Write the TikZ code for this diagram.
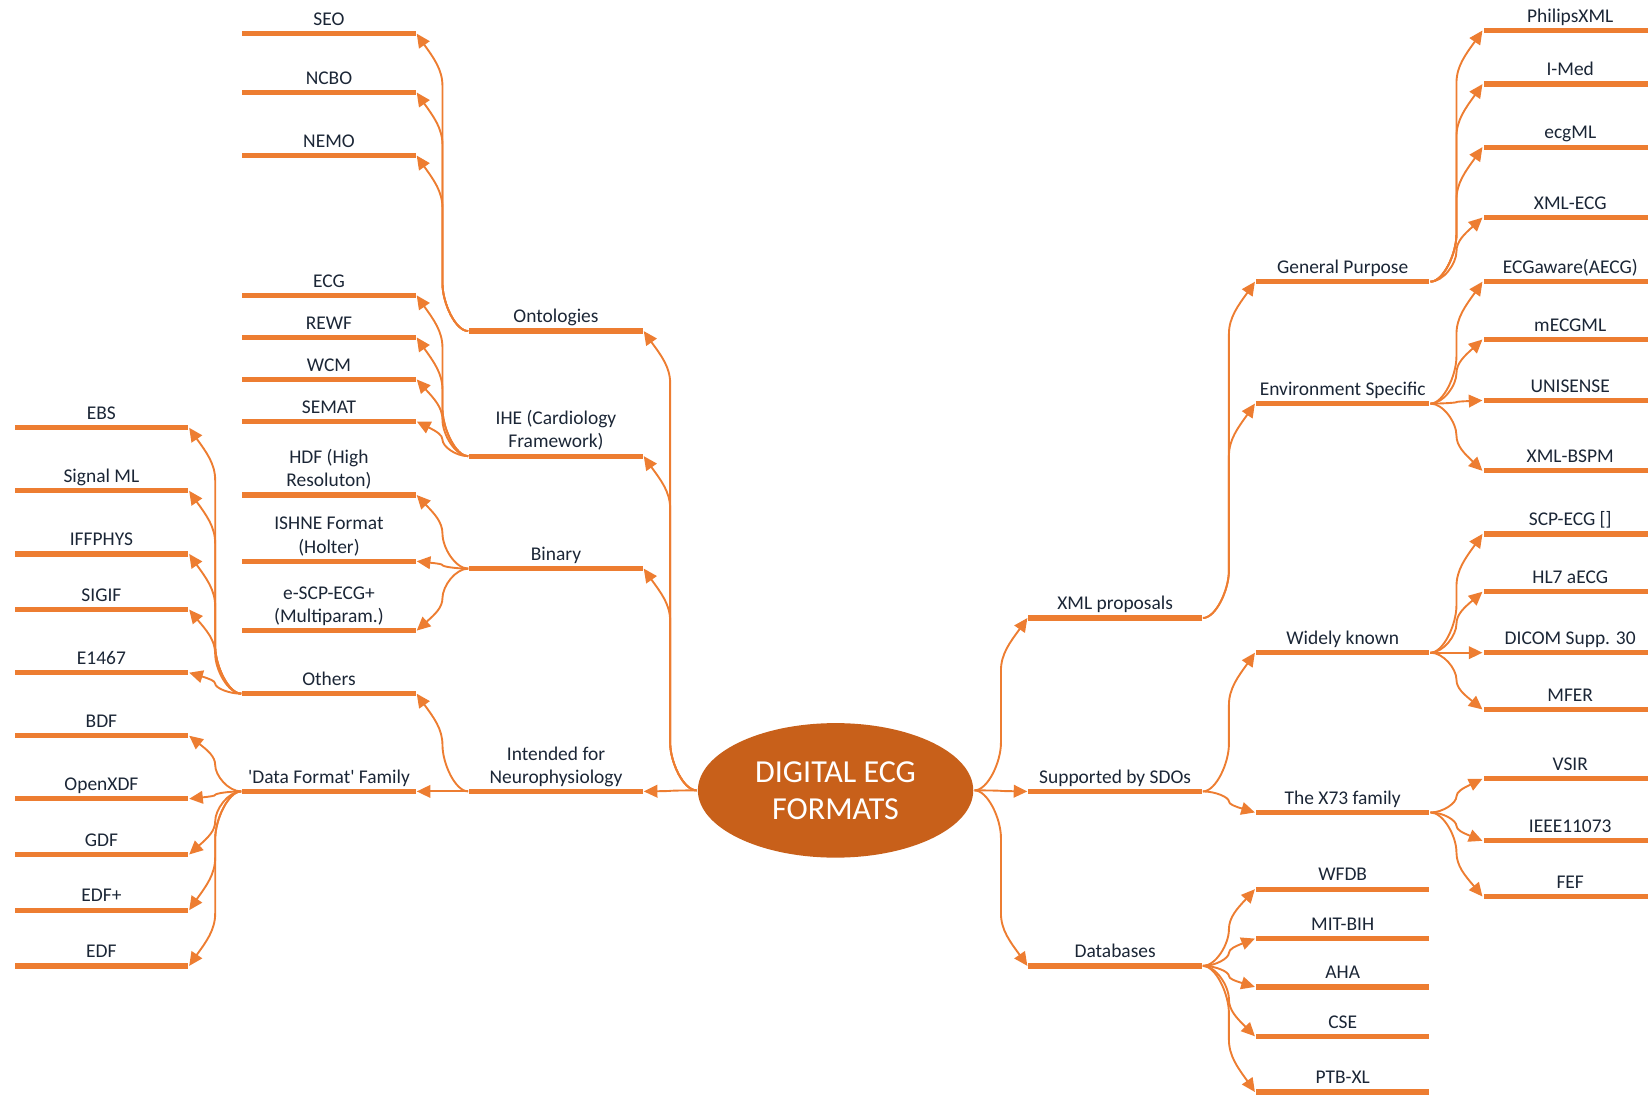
\documentclass[tikz,border=0pt]{standalone}
\usepackage{fontspec}
\setmainfont{Carlito}
\usetikzlibrary{shapes.geometric,arrows.meta,bending,calc}
\definecolor{lineor}{HTML}{ED7D31}
\definecolor{fillor}{HTML}{C8601A}
\definecolor{txt}{HTML}{1B2636}
\tikzset{
 bar/.style={rectangle, fill=lineor, minimum width=165pt, minimum height=5pt, inner sep=0pt, outer sep=0pt},
 lab/.style={anchor=south, inner sep=0pt, align=center, text=txt, font=\fontsize{18.5}{22}\selectfont},
 conn/.style={draw=lineor, line width=1.8pt, -{Triangle[length=13pt,width=12pt]}},
 rootnode/.style={ellipse, fill=fillor, minimum width=262pt, minimum height=128pt, inner sep=0pt, text=white, align=center, font=\fontsize{30.5}{35}\selectfont},
}
\newcommand\leaf[4]{\node[bar] (#1) at (#2,-#3) {};
 \node[lab] (#1-t) at ([yshift=1pt]#1.center) {#4\strut};}
\newcommand\conn[2]{\draw[conn] let \p1=(#1), \p2=(#2),
  \n1={\x1+0.5*(\x2-\x1)},
  \n2={max(-45,min(45,(\y2-\y1)*0.4737))},
  \n3={max(-50,min(50,(\y2-\y1)*0.5263))} in
  (\p1) .. controls ({\x1+0.5*(\n1-\x1)},\y1) and (\n1,{\y1+0.6*\n2}) .. (\n1,{\y1+\n2})
  -- (\n1,{\y2-\n3})
  .. controls (\n1,{\y2-0.6*\n3}) and ({\x2+0.45*(\n1-\x2)},{\y2-0.35*\n3}) .. (\p2);}
\newcommand\conL[2]{\conn{[xshift=-1pt]#1.west}{[xshift=1pt]#2.east}}
\newcommand\conR[2]{\conn{[xshift=1pt]#1.east}{[xshift=-1pt]#2.west}}
\begin{document}
\begin{tikzpicture}[x=1pt,y=1pt]
\useasboundingbox (0,0) rectangle (1568,-1041);
\node[rootnode] (root) at (795,-752) {DIGITAL ECG\\FORMATS};
% level 1 left
\leaf{ont}{529}{315}{Ontologies}
\leaf{ihe}{529}{434}{IHE (Cardiology\\Framework)}
\leaf{bin}{529}{541}{Binary}
\leaf{neu}{529}{753}{Intended for\\Neurophysiology}
% level 2 left
\leaf{seo}{313}{32}{SEO}
\leaf{ncbo}{313}{88}{NCBO}
\leaf{nemo}{313}{148}{NEMO}
\leaf{ecg}{313}{281}{ECG}
\leaf{rewf}{313}{321}{REWF}
\leaf{wcm}{313}{361}{WCM}
\leaf{semat}{313}{401}{SEMAT}
\leaf{hdf}{313}{471}{HDF (High\\Resoluton)}
\leaf{ishne}{313}{534}{ISHNE Format\\(Holter)}
\leaf{escp}{313}{600}{e-SCP-ECG+\\(Multiparam.)}
\leaf{oth}{313}{660}{Others}
\leaf{dff}{313}{753}{\textquotesingle Data Format\textquotesingle{} Family}
% level 3 left
\leaf{ebs}{96.5}{407}{EBS}
\leaf{sml}{96.5}{467}{Signal ML}
\leaf{iff}{96.5}{527}{IFFPHYS}
\leaf{sigif}{96.5}{580}{SIGIF}
\leaf{e1467}{96.5}{640}{E1467}
\leaf{bdf}{96.5}{700}{BDF}
\leaf{oxdf}{96.5}{760}{OpenXDF}
\leaf{gdf}{96.5}{813}{GDF}
\leaf{edfp}{96.5}{866}{EDF+}
\leaf{edf}{96.5}{919}{EDF}
% level 1 right
\leaf{xml}{1061}{588}{XML proposals}
\leaf{sdo}{1061}{753}{Supported by SDOs}
\leaf{db}{1061}{919}{Databases}
% level 2 right
\leaf{gp}{1277.5}{268}{General Purpose}
\leaf{env}{1277.5}{384}{Environment Specific}
\leaf{wk}{1277.5}{621}{Widely known}
\leaf{x73}{1277.5}{773}{The X73 family}
\leaf{wfdb}{1277.5}{846}{WFDB}
\leaf{mit}{1277.5}{893}{MIT-BIH}
\leaf{aha}{1277.5}{939}{AHA}
\leaf{cse}{1277.5}{986}{CSE}
\leaf{ptb}{1277.5}{1039}{PTB-XL}
% level 3 right
\leaf{phil}{1494}{29}{PhilipsXML}
\leaf{imed}{1494}{80}{I-Med}
\leaf{ecgml}{1494}{140}{ecgML}
\leaf{xmlecg}{1494}{207}{XML-ECG}
\leaf{aecg}{1494}{268}{ECGaware(AECG)}
\leaf{mecg}{1494}{323}{mECGML}
\leaf{uni}{1494}{381}{UNISENSE}
\leaf{bspm}{1494}{448}{XML-BSPM}
\leaf{scp}{1494}{508}{SCP-ECG []}
\leaf{hl7}{1494}{563}{HL7 aECG}
\leaf{dicom}{1494}{621}{DICOM Supp. 30}
\leaf{mfer}{1494}{675}{MFER}
\leaf{vsir}{1494}{741}{VSIR}
\leaf{ieee}{1494}{800}{IEEE11073}
\leaf{fef}{1494}{853}{FEF}
% connectors left
\conL{root}{ont}\conL{root}{ihe}\conL{root}{bin}\conL{root}{neu}
\conL{ont}{seo}\conL{ont}{ncbo}\conL{ont}{nemo}
\conL{ihe}{ecg}\conL{ihe}{rewf}\conL{ihe}{wcm}\conL{ihe}{semat}
\conL{bin}{hdf}\conL{bin}{ishne}\conL{bin}{escp}
\conL{neu}{oth}\conL{neu}{dff}
\conL{oth}{ebs}\conL{oth}{sml}\conL{oth}{iff}\conL{oth}{sigif}\conL{oth}{e1467}
\conL{dff}{bdf}\conL{dff}{oxdf}\conL{dff}{gdf}\conL{dff}{edfp}\conL{dff}{edf}
% connectors right
\conR{root}{xml}\conR{root}{sdo}\conR{root}{db}
\conR{xml}{gp}\conR{xml}{env}
\conR{gp}{phil}\conR{gp}{imed}\conR{gp}{ecgml}\conR{gp}{xmlecg}
\conR{env}{aecg}\conR{env}{mecg}\conR{env}{uni}\conR{env}{bspm}
\conR{sdo}{wk}\conR{sdo}{x73}
\conR{wk}{scp}\conR{wk}{hl7}\conR{wk}{dicom}\conR{wk}{mfer}
\conR{x73}{vsir}\conR{x73}{ieee}\conR{x73}{fef}
\conR{db}{wfdb}\conR{db}{mit}\conR{db}{aha}\conR{db}{cse}\conR{db}{ptb}
\end{tikzpicture}
\end{document}
